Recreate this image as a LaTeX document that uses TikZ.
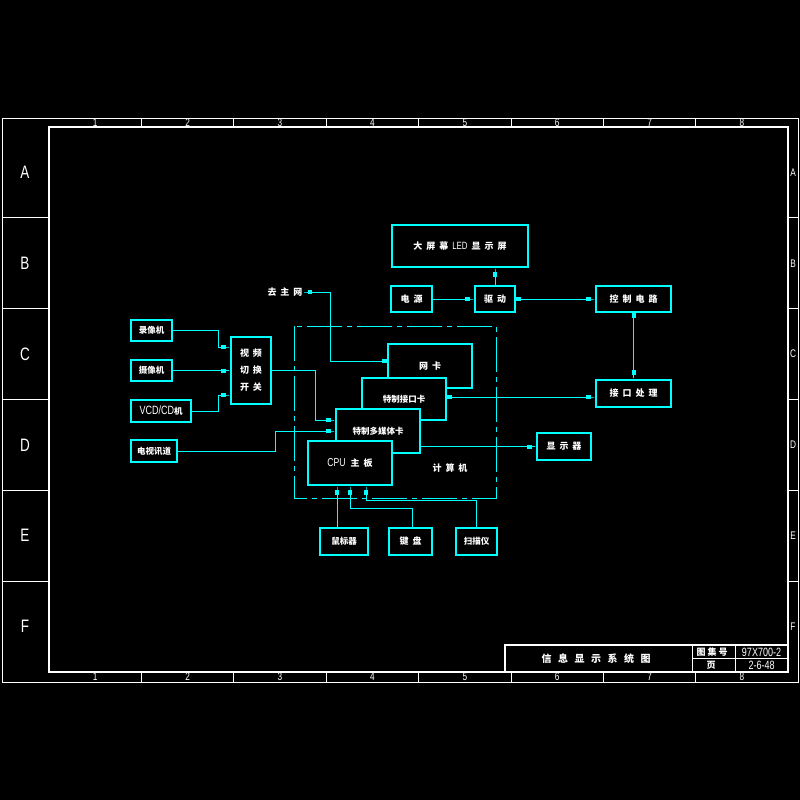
\documentclass[tikz,border=0pt]{standalone}
\usepackage{fontspec}
\setmainfont{Noto Sans CJK SC}
\newfontfamily\cadfont{Liberation Sans}[FakeStretch=0.75]
\usetikzlibrary{arrows.meta}

\definecolor{cadcyan}{RGB}{0,255,255}
\newcommand{\gp}{\hspace{4pt}}
\newcommand{\lat}[2][10.5]{{\cadfont\mdseries\fontsize{#1}{#1}\selectfont #2}}

\tikzset{
  sq/.tip={Rectangle[length=4.5pt,width=4pt] Rectangle[length=4pt,width=1pt]},
  sqs/.tip={Rectangle[length=4pt,width=1pt] Rectangle[length=4.5pt,width=4pt]},
  box/.style={draw=cadcyan, line width=2.6pt, fill=black, text=white, inner sep=0pt,
    font=\bfseries\fontsize{9}{10}\selectfont},
  tight/.style={font=\bfseries\fontsize{8.5}{10}\selectfont},
  wire/.style={cadcyan, line width=1pt},
  frame/.style={white, line width=1pt},
  lbl/.style={text=white, inner sep=1pt, font=\bfseries\fontsize{9}{10}\selectfont},
}

\begin{document}
\begin{tikzpicture}[x=1pt,y=-1pt]
  \fill[black] (0,0) rectangle (800,800);
  \useasboundingbox (0,0) rectangle (800,800);

  % sheet frame
  \draw[frame] (2,118) rectangle (798,682);
  \draw[white, line width=2.6pt] (49,127) rectangle (788,672);
  \foreach \i in {1,...,7}
  {
    \draw[frame] (49+92.4*\i,118) -- ++(0,9);
    \draw[frame] (49+92.4*\i,672) -- ++(0,10);
  }
  \foreach \i in {1,...,8}
  {
    \node[lbl] (ct\i) at (49+92.4*\i-46.2,122.5) {\lat[11]{\i}};
    \node[lbl] (cb\i) at (49+92.4*\i-46.2,677) {\lat[11]{\i}};
  }
  \foreach \k in {1,...,5}
  {
    \draw[frame] (2,127+90.83*\k) -- (49,127+90.83*\k);
    \draw[frame] (788,127+90.83*\k) -- (798,127+90.83*\k);
  }
  \foreach \r [count=\k] in {A,B,C,D,E,F}
  {
    \node[lbl] (rl\k) at (25,127+90.83*\k-45.4) {\lat[18]{\r}};
    \node[lbl] (rr\k) at (793,127+90.83*\k-45.4) {\lat[11]{\r}};
  }

  % title block
  \draw[white, line width=1.8pt] (505,645) rectangle (788,672);
  \draw[frame] (692,645) -- (692,672);
  \draw[frame] (735,645) -- (735,672);
  \draw[frame] (692,658.5) -- (788,658.5);
  \node[lbl, font=\bfseries\fontsize{10}{10}\selectfont] (title) at (596,659)
    {信\hspace{6.5pt}息\hspace{6.5pt}显\hspace{6.5pt}示\hspace{6.5pt}系\hspace{6.5pt}统\hspace{6.5pt}图};
  \node[lbl] (tjh) at (712,652) {图\hspace{2pt}集\hspace{2pt}号};
  \node[lbl] (tno) at (761.5,652) {\lat[12]{97X700-2}};
  \node[lbl] (tye) at (711,665) {页};
  \node[lbl] (tpg) at (761.5,665) {\lat[12]{2-6-48}};

  % computer
  \draw[wire, dash pattern=on 35pt off 5pt on 5pt off 5pt]
    (294,326) rectangle (496,498);
  \node[lbl] (pc) at (450,468) {计\gp 算\gp 机};

  % boxes
  \node[box, minimum width=136pt, minimum height=42pt] (led) at (460,246)
    {大\gp 屏\gp 幕\gp\lat{LED}\gp 显\gp 示\gp 屏};
  \node[box, minimum width=41pt, minimum height=26pt] (pwr) at (411.5,299) {电\gp 源};
  \node[box, minimum width=40pt, minimum height=26pt] (drv) at (495,299) {驱\gp 动};
  \node[box, minimum width=75pt, minimum height=26pt] (ctl) at (633.5,299) {控\gp 制\gp 电\gp 路};
  \node[box, minimum width=75pt, minimum height=27pt] (ifp) at (633.5,393.5) {接\gp 口\gp 处\gp 理};
  \node[box, minimum width=54pt, minimum height=27pt] (mon) at (564,446.5) {显\gp 示\gp 器};

  \node[box, tight, minimum width=41pt, minimum height=21pt] (rec) at (151.5,330.5) {录像机};
  \node[box, tight, minimum width=41pt, minimum height=21pt] (cam) at (151.5,370.5) {摄像机};
  \node[box, tight, minimum width=60pt, minimum height=22pt] (vcd) at (161,411) {\lat[12]{VCD/CD}机};
  \node[box, tight, minimum width=46pt, minimum height=22pt] (tv) at (154,451) {电视讯道};
  \node[box, minimum width=40pt, minimum height=67pt, align=center,
    font=\bfseries\fontsize{9}{17}\selectfont] (sw) at (251,370.5)
    {视\gp 频\\切\gp 换\\开\gp 关};

  \node[box, minimum width=84pt, minimum height=44pt] (net) at (430,366) {网\gp 卡};
  \node[box, tight, minimum width=84pt, minimum height=42pt] (ifc) at (404,399) {特制接口卡};
  \node[box, tight, minimum width=84pt, minimum height=44pt] (mm) at (378,431) {特制多媒体卡};
  \node[box, minimum width=84pt, minimum height=44pt] (cpu) at (350,463)
    {\lat[11.5]{CPU}\hspace{5pt}主\gp 板};

  \node[box, tight, minimum width=48pt, minimum height=27pt] (mouse) at (344,541.5) {鼠标器};
  \node[box, minimum width=43pt, minimum height=27pt] (kbd) at (410.5,541.5) {键\gp 盘};
  \node[box, tight, minimum width=41pt, minimum height=27pt] (scn) at (476.5,541.5) {扫描仪};

  \node[lbl] (gw) at (285,292) {去\gp 主\gp 网};

  % connections
  \draw[wire, -sq] (drv.north) -- (drv.north |- led.south);
  \draw[wire, -sq] (pwr) -- (drv);
  \draw[wire, sqs-sq] (drv) -- (ctl);
  \draw[wire, sqs-sq] (ctl) -- (ifp);
  \draw[wire, sqs-sq] ([yshift=2pt]ifc.east) -- ([yshift=2pt]ifc.east -| ifp.west);
  \draw[wire, sqs-sq] ([yshift=5pt]net.west) -- ++(-56,0) |- (gw.east);
  \draw[wire, -sq] (sw.east) -- ++(43,0) |- ([yshift=11pt]mm.west);
  \draw[wire, -sq] (tv.east) -- ++(97,0) |- (mm.west);
  \draw[wire, -sq] (mm.east |- mon.west) -- (mon.west);
  \draw[wire, -sq] (rec.east) -- ++(45,0) |- ([yshift=23.5pt]sw.west);
  \draw[wire, -sq] (cam) -- (sw);
  \draw[wire, -sq] (vcd.east) -- ++(26,0) |- ([yshift=-24.5pt]sw.west);
  \draw[wire, -sq] ([xshift=-7pt]mouse.north) -- ([xshift=-13pt]cpu.south);
  \draw[wire, -sq] ([xshift=1.5pt]kbd.north) -- ++(0,-18) -| (cpu.south);
  \draw[wire, -sq] (scn.north) -- ++(0,-26) -| ([xshift=16pt]cpu.south);
\end{tikzpicture}
\end{document}
